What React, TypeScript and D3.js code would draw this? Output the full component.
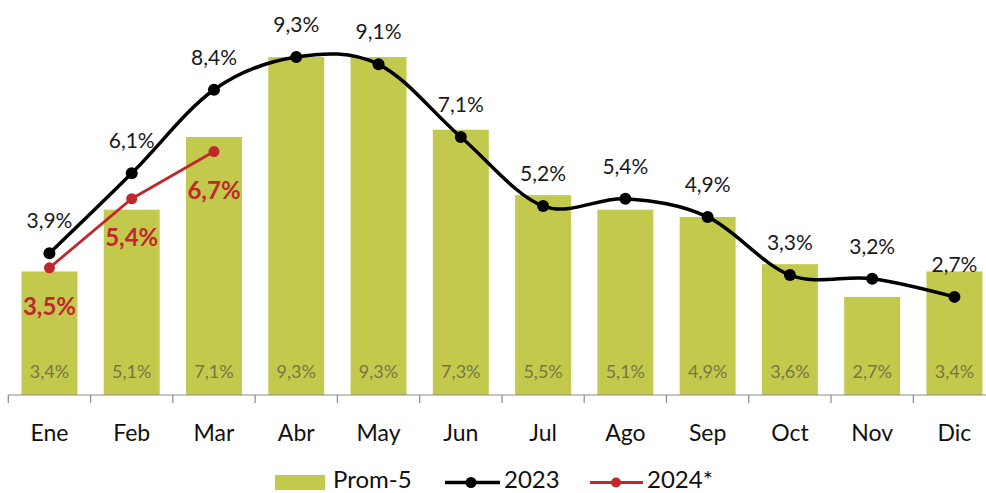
import React from "react";
import * as d3 from "d3";

const months = ["Ene", "Feb", "Mar", "Abr", "May", "Jun", "Jul", "Ago", "Sep", "Oct", "Nov", "Dic"];
const prom5 = [3.4, 5.1, 7.1, 9.3, 9.3, 7.3, 5.5, 5.1, 4.9, 3.6, 2.7, 3.4];
const y2023 = [3.9, 6.1, 8.4, 9.3, 9.1, 7.1, 5.2, 5.4, 4.9, 3.3, 3.2, 2.7];
const y2024 = [3.5, 5.4, 6.7];

const W = 986;
const H = 493;
const FONT = "Lato, 'Open Sans', sans-serif";
const BAR = "#c3c94d";
const RED = "#c0282d";

const fmt = (v: number) => v.toFixed(1).replace(".", ",") + "%";

export default function App() {
  const x = d3.scaleBand<string>().domain(months).range([8.3, 995.6]).paddingInner(0.32).paddingOuter(0.16);
  const y = d3.scaleLinear().domain([0, 10]).range([395, 395 - 363.4]);
  const cx = (m: string) => (x(m) as number) + x.bandwidth() / 2;

  const line2023 = d3
    .line<number>()
    .x((_, i) => cx(months[i]))
    .y((d) => y(d))
    .curve(d3.curveCatmullRom.alpha(0));
  const line2024 = d3
    .line<number>()
    .x((_, i) => cx(months[i]))
    .y((d) => y(d));

  const step = x.step();
  const ticks = d3.range(months.length + 1).map((i) => 8.3 + i * step);

  return (
    <svg width={W} height={H} style={{ position: "absolute", left: 0, top: 0, background: "#fff" }}>
      {months.map((m, i) => (
        <rect key={m} x={x(m)} y={y(prom5[i])} width={x.bandwidth()} height={y(0) - y(prom5[i])} fill={BAR} />
      ))}
      {months.map((m, i) => (
        <text key={m} x={cx(m)} y={377.5} textAnchor="middle" fontFamily={FONT} fontSize={18} fill="#76783f">
          {fmt(prom5[i])}
        </text>
      ))}
      <line x1={8.3} x2={W} y1={395} y2={395} stroke="#8c8c8c" strokeWidth={1.2} />
      {ticks.map((t, i) => (
        <line key={i} x1={t} x2={t} y1={395} y2={403} stroke="#8c8c8c" strokeWidth={1.2} />
      ))}
      {months.map((m) => (
        <text key={m} x={cx(m)} y={441} textAnchor="middle" fontFamily={FONT} fontSize={23} fill="#111">
          {m}
        </text>
      ))}
      <path d={line2023(y2023) as string} fill="none" stroke="#000" strokeWidth={3.5} />
      {y2023.map((v, i) => (
        <circle key={i} cx={cx(months[i])} cy={y(v)} r={6} fill="#000" />
      ))}
      {y2023.map((v, i) => (
        <text key={i} x={cx(months[i])} y={y(v) - 25} textAnchor="middle" fontFamily={FONT} fontSize={21} fill="#1a1a1a">
          {fmt(v)}
        </text>
      ))}
      <path d={line2024(y2024) as string} fill="none" stroke={RED} strokeWidth={2.8} />
      {y2024.map((v, i) => (
        <circle key={i} cx={cx(months[i])} cy={y(v)} r={5.5} fill={RED} />
      ))}
      {y2024.map((v, i) => (
        <text key={i} x={cx(months[i])} y={y(v) + 47} textAnchor="middle" fontFamily={FONT} fontSize={24} fontWeight="bold" fill={RED}>
          {fmt(v)}
        </text>
      ))}
      <g>
        <rect x={275} y={475} width={50} height={15} fill={BAR} />
        <text x={333} y={488} fontFamily={FONT} fontSize={24} fill="#111">Prom-5</text>
        <line x1={445} x2={500} y1={482.5} y2={482.5} stroke="#000" strokeWidth={3.5} />
        <circle cx={471} cy={482.5} r={5.5} fill="#000" />
        <text x={504} y={488} fontFamily={FONT} fontSize={24} fill="#111">2023</text>
        <line x1={590} x2={643} y1={482.5} y2={482.5} stroke={RED} strokeWidth={2.8} />
        <circle cx={616} cy={482.5} r={5} fill={RED} />
        <text x={647} y={488} fontFamily={FONT} fontSize={24} fill="#111">2024*</text>
      </g>
    </svg>
  );
}
